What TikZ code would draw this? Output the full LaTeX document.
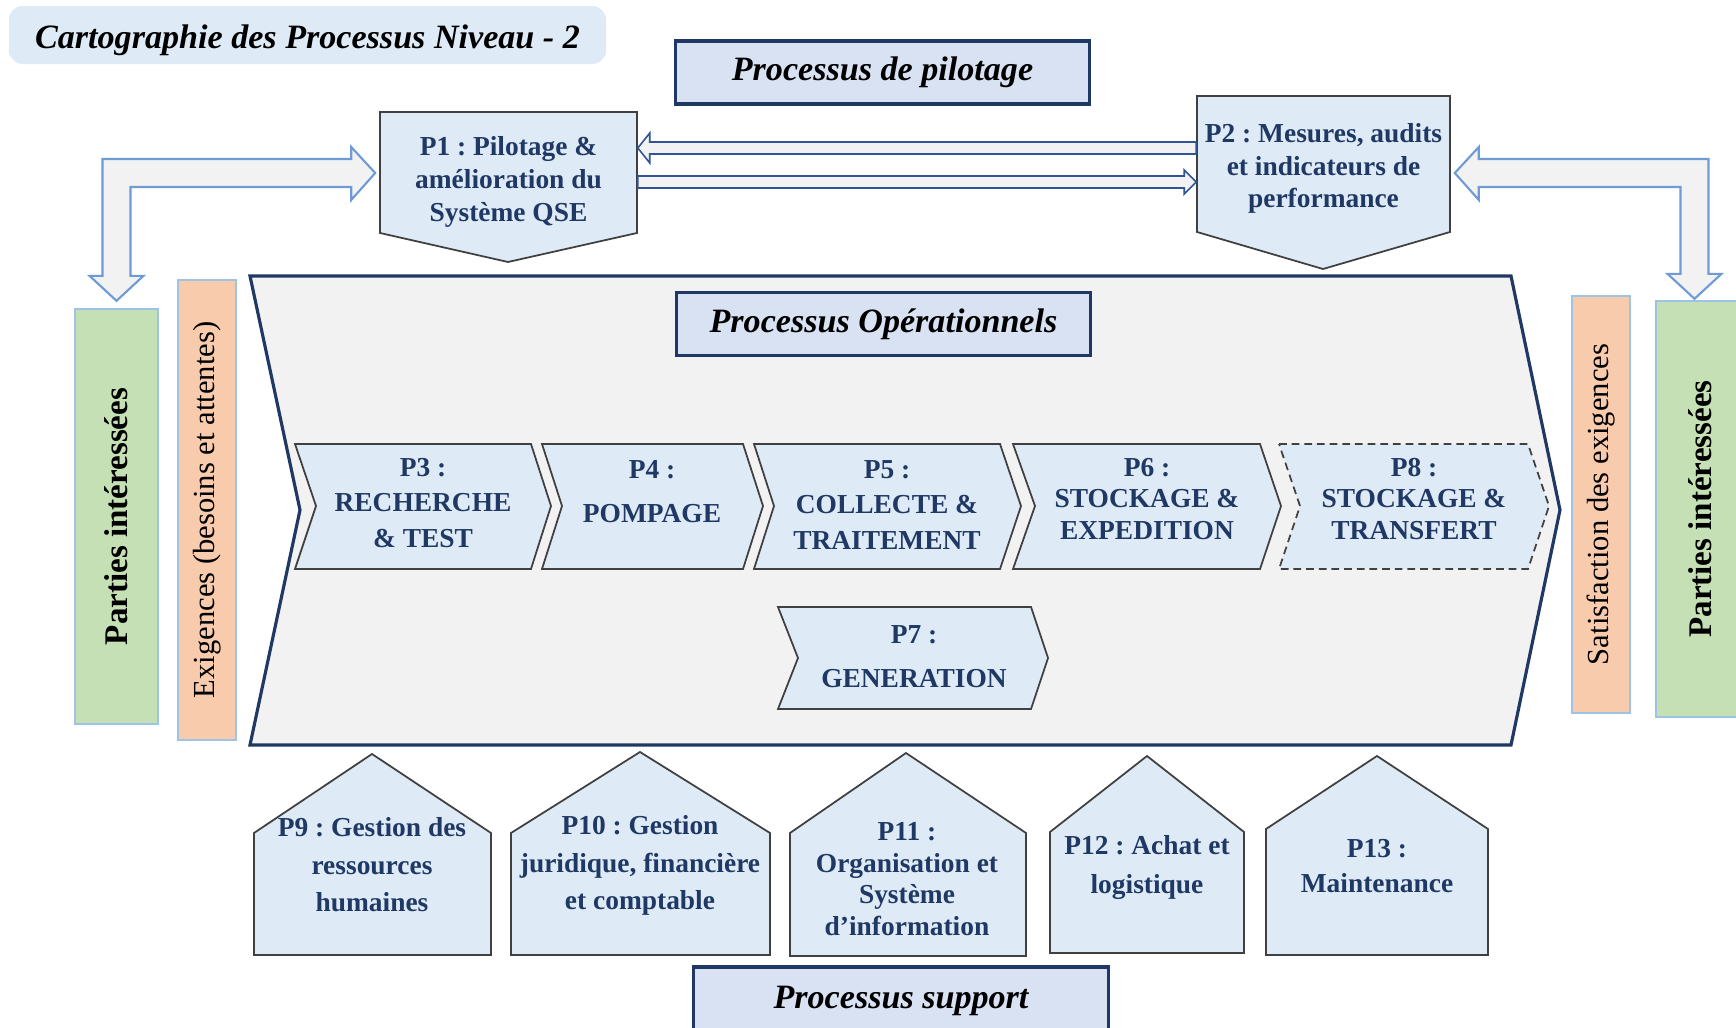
\documentclass[tikz,border=0pt]{standalone}
\usepackage{fontspec}
\setmainfont{Liberation Serif}
\usepackage{xcolor}
\usetikzlibrary{calc}
\frenchspacing

\definecolor{navy}{HTML}{1F3864}
\definecolor{procblue}{HTML}{DEEBF7}
\definecolor{headblue}{HTML}{D9E2F3}
\definecolor{shaftgray}{HTML}{F2F2F2}
\definecolor{arrowblue}{HTML}{6E9BD6}
\definecolor{linkblue}{HTML}{2F5597}
\definecolor{sidegreen}{HTML}{C5E0B4}
\definecolor{sideorange}{HTML}{F8CBAD}
\definecolor{sideedge}{HTML}{9DC3E6}

\begin{document}
\begin{tikzpicture}[
  x=0.01cm, y=-0.01cm,
  hbox/.style={
    rectangle, draw=navy, fill=headblue, line width=0.9pt,
    minimum width=4.13cm, minimum height=0.63cm, inner sep=0pt,
    font=\fontsize{9.7pt}{11pt}\selectfont\bfseries\itshape
  },
  pshape/.style={draw=black!75, fill=procblue, line width=0.5pt},
  ptext/.style={
    text=navy, align=center, inner sep=0pt,
    font=\fontsize{7.8pt}{#1}\selectfont\bfseries
  },
  ptext/.default={9.1pt},
  side/.style={
    rectangle, draw=sideedge, fill=#1, line width=0.6pt,
    rotate=90, inner sep=0pt
  },
  barr/.style={draw=arrowblue, fill=shaftgray, line width=0.6pt},
  larr/.style={draw=linkblue, fill=shaftgray, line width=0.45pt}
]
\useasboundingbox (0,0) rectangle (1736,1028);

% === Title ===
\node[rectangle, rounded corners=4pt, fill=procblue, inner sep=0pt,
      minimum width=5.97cm, minimum height=0.58cm, text height=9.4pt, text depth=2pt,
      font=\fontsize{9.7pt}{11pt}\selectfont\bfseries\itshape] (title)
  at (307.5,35) {Cartographie des Processus Niveau - 2};

% === Operational frame ===
\draw[draw=navy, fill=shaftgray, line width=0.9pt]
  (250,276) -- (1511,276) -- (1560,510) -- (1511,745) -- (250,745) -- (300,510) -- cycle;

% === Outlines: pilotage ===
\draw[pshape] (380,112) -- (637,112) -- (637,233) -- (508,262) -- (380,233) -- cycle;
\draw[pshape] (1197,96) -- (1450,96) -- (1450,232) -- (1323,269) -- (1197,232) -- cycle;

% === Outlines: operational chain ===
\draw[pshape] (295,444) -- (531,444) -- (551,506) -- (531,569) -- (295,569) -- (316,506) -- cycle;
\draw[pshape] (542,444) -- (743,444) -- (763,506) -- (743,569) -- (542,569) -- (562,506) -- cycle;
\draw[pshape] (754,444) -- (1000,444) -- (1021,506) -- (1000,569) -- (754,569) -- (774,506) -- cycle;
\draw[pshape] (1013,444) -- (1260,444) -- (1281,506) -- (1260,569) -- (1013,569) -- (1035,506) -- cycle;
\draw[pshape, dash pattern=on 2.2pt off 1.4pt]
  (1279,444) -- (1528,444) -- (1549,506) -- (1528,569) -- (1279,569) -- (1300,506) -- cycle;
\draw[pshape] (778,607) -- (1031,607) -- (1048,658) -- (1031,709) -- (778,709) -- (798,658) -- cycle;

% === Outlines: support ===
\draw[pshape] (254,955) -- (254,833) -- (372,754) -- (491,833) -- (491,955) -- cycle;
\draw[pshape] (511,955) -- (511,833) -- (640,752) -- (770,833) -- (770,955) -- cycle;
\draw[pshape] (790,956) -- (790,833) -- (906,753) -- (1026,833) -- (1026,956) -- cycle;
\draw[pshape] (1050,953) -- (1050,832) -- (1147,756) -- (1244,832) -- (1244,953) -- cycle;
\draw[pshape] (1266,955) -- (1266,829) -- (1377,756) -- (1488,829) -- (1488,955) -- cycle;

% === Headers ===
\node[hbox] (hpilot) at (882.5,72.5) {Processus de pilotage};
\node[hbox] (hop) at (883.5,324) {Processus Opérationnels};
\node[hbox, minimum width=4.14cm, minimum height=0.67cm] (hsup) at (901,1000.5) {Processus support};

% === Pilotage ===
\node[ptext=9.3pt, minimum width=2.57cm] (p1) at (508.5,182)
  {P1 : Pilotage \&\\amélioration du\\Système QSE};
\node[ptext=9.2pt, minimum width=2.53cm] (p2) at (1323.5,168.5)
  {P2 : Mesures, audits\\et indicateurs de\\performance};

% === Operational ===
\node[ptext=10.2pt] (p3) at (423,503) {P3 :\\RECHERCHE\\\& TEST};
\node[ptext=12.5pt] (p4) at (652,492) {P4 :\\POMPAGE};
\node[ptext=10.2pt] (p5) at (887,505) {P5 :\\COLLECTE \&\\TRAITEMENT};
\node[ptext=9pt] (p6) at (1147,499) {P6 :\\STOCKAGE \&\\EXPEDITION};
\node[ptext=9pt] (p8) at (1414,499) {P8 :\\STOCKAGE \&\\TRANSFERT};
\node[ptext=12.5pt] (p7) at (914,657) {P7 :\\GENERATION};

% === Support ===
\node[ptext=10.7pt] (p9) at (372,865) {P9 : Gestion des\\ressources\\humaines};
\node[ptext=10.7pt] (p10) at (640,865.5) {P10 : Gestion\\juridique, financière\\et comptable};
\node[ptext=9pt] (p11) at (907,879) {P11 :\\Organisation et\\Système\\d’information};
\node[ptext=11.1pt] (p12) at (1147,867.5) {P12 : Achat et\\logistique};
\node[ptext=10pt] (p13) at (1377,866) {P13 :\\Maintenance};

% === Interested parties ===
\node[side=sidegreen, minimum width=4.15cm, minimum height=0.83cm,
      font=\fontsize{9.4pt}{11pt}\selectfont\bfseries] (pil) at (116.5,516.5) {Parties intéressées};
\node[side=sideorange, minimum width=4.60cm, minimum height=0.58cm,
      font=\fontsize{8.7pt}{10pt}\selectfont] (exig) at (207,510) {Exigences (besoins et attentes)};
\node[side=sideorange, minimum width=4.17cm, minimum height=0.58cm,
      font=\fontsize{8.7pt}{10pt}\selectfont] (satis) at (1601,504.5) {Satisfaction des exigences};
\node[side=sidegreen, minimum width=4.16cm, minimum height=0.89cm,
      font=\fontsize{9.4pt}{11pt}\selectfont\bfseries] (pir) at (1700.5,509) {Parties intéressées};

% === Links P1 <-> P2 ===
\coordinate (upY) at (0,148);
\coordinate (dnY) at (0,182);
\draw[larr] (p1.east |- upY) -- ++(12,-15) -- ++(0,9) -- ($(p2.west |- upY)+(0,-6)$)
  -- ++(0,12) -- ($(p1.east |- upY)+(12,6)$) -- ++(0,9) -- cycle;
\draw[larr] (p2.west |- dnY) -- ++(-12,-12) -- ++(0,6) -- ($(p1.east |- dnY)+(0,-6)$)
  -- ++(0,12) -- ($(p2.west |- dnY)+(-12,6)$) -- ++(0,6) -- cycle;

% === Bent arrows to interested parties ===
\coordinate (la1) at ($(p1.west)+(-4,-9)$);
\coordinate (la2) at ($(pil.east)+(0,-7)$);
\draw[barr] (la1) -- ++(-24,-26) -- ++(0,12) -| ($(la2)+(-14,-25)$) -- ++(-13,0)
  -- (la2) -- ++(27,-25) -- ++(-13,0) |- ($(la1)+(-24,14)$) -- ++(0,13) -- cycle;

\coordinate (ra1) at ($(p2.east)+(4,4.5)$);
\coordinate (ra2) at ($(pir.east)+(-6,-1)$);
\draw[barr] (ra1) -- ++(24,-26) -- ++(0,12) -| ($(ra2)+(14,-25)$) -- ++(13,0)
  -- (ra2) -- ++(-27,-25) -- ++(13,0) |- ($(ra1)+(24,14)$) -- ++(0,13) -- cycle;

\end{tikzpicture}
\end{document}
